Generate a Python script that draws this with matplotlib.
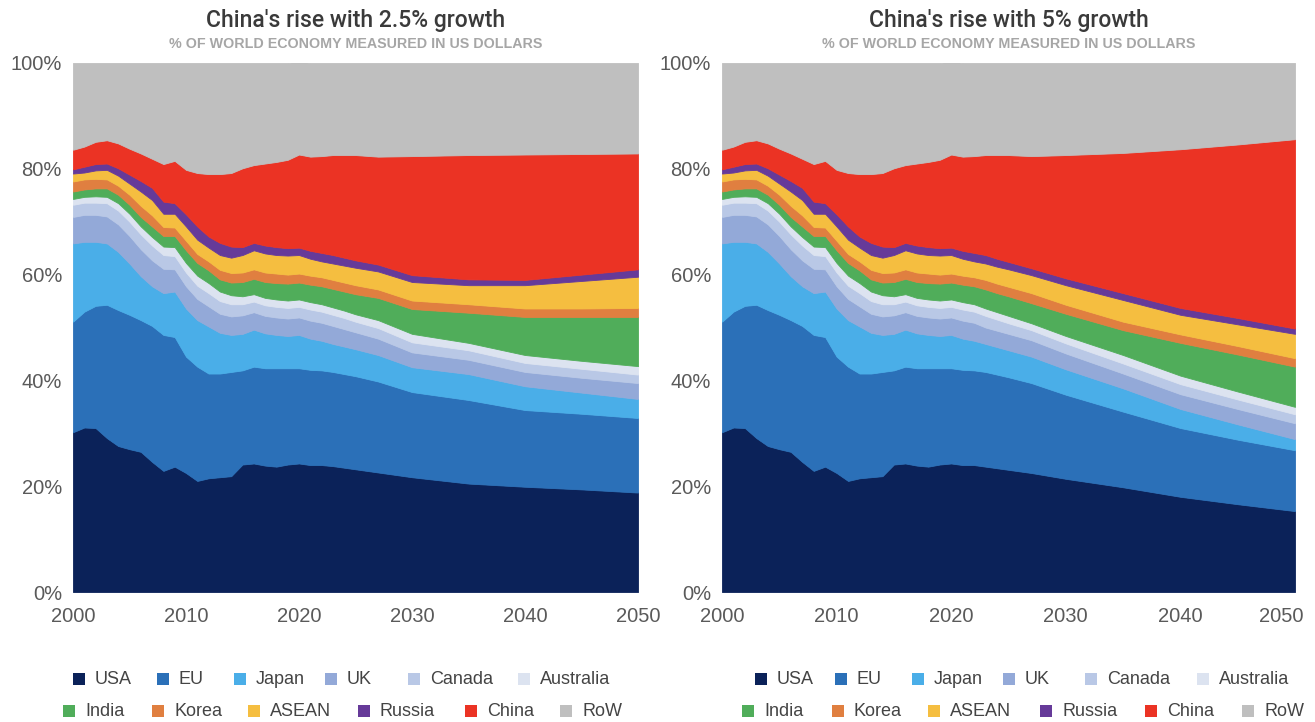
import matplotlib
matplotlib.use("Agg")
import matplotlib.pyplot as plt
from matplotlib.patches import Rectangle
from matplotlib.transforms import ScaledTranslation

plt.rcParams['font.family'] = ['Liberation Sans', 'DejaVu Sans']

# ---------------- data (share of world GDP, %) ----------------
years = list(range(2000, 2026)) + [2027, 2030, 2035, 2040, 2045, 2050]

countries = ["USA", "EU", "Japan", "UK", "Canada", "Australia",
             "India", "Korea", "ASEAN", "Russia", "China", "RoW"]
colors = ["#0b2259", "#2b70b8", "#4aaee8", "#93a9d8", "#b9c8e6", "#dce3f0",
          "#50ad5a", "#e07f40", "#f5be40", "#663a99", "#eb3324", "#bfbfbf"]

# historical 2000-2022 (shared by both scenarios)
hist_usa = [30.2, 31.1, 31.0, 29.1, 27.6, 27.0, 26.5, 24.6, 22.9, 23.7, 22.5, 21.0, 21.5, 21.7, 21.9, 24.1, 24.3, 23.9, 23.7, 24.1, 24.3, 24.0, 24.0]
hist_eu = [20.9, 21.9, 23.1, 25.2, 25.7, 25.4, 24.9, 25.7, 25.7, 24.5, 22.0, 21.6, 19.8, 19.6, 19.7, 17.8, 18.3, 18.4, 18.6, 18.2, 18.0, 18.0, 17.9]
hist_japan = [14.8, 13.2, 12.1, 11.6, 11.0, 9.7, 8.3, 7.5, 7.9, 8.6, 9.1, 8.8, 8.9, 7.7, 7.0, 6.9, 7.0, 6.6, 6.3, 6.1, 6.3, 5.9, 5.6]
hist_uk = [5.0, 5.1, 5.1, 5.1, 5.2, 5.2, 5.1, 4.9, 4.6, 4.2, 4.2, 4.0, 3.8, 3.6, 3.5, 3.5, 3.3, 3.3, 3.3, 3.3, 3.3, 3.4, 3.4]
hist_canada = [2.3, 2.3, 2.3, 2.5, 2.6, 2.7, 2.8, 2.8, 2.6, 2.5, 2.6, 2.5, 2.5, 2.4, 2.3, 2.1, 2.0, 2.0, 2.0, 2.0, 2.0, 2.1, 2.1]
hist_australia = [1.1, 1.1, 1.2, 1.2, 1.4, 1.5, 1.5, 1.6, 1.6, 1.7, 1.8, 1.9, 1.9, 1.8, 1.7, 1.5, 1.4, 1.4, 1.4, 1.4, 1.4, 1.4, 1.4]
hist_india = [1.4, 1.4, 1.5, 1.6, 1.6, 1.7, 1.8, 2.0, 2.0, 2.1, 2.4, 2.4, 2.4, 2.3, 2.4, 2.7, 2.9, 3.0, 3.1, 3.2, 3.2, 3.3, 3.4]
hist_korea = [1.9, 1.9, 1.8, 1.7, 1.7, 1.9, 2.1, 2.1, 1.7, 1.6, 1.8, 1.7, 1.7, 1.8, 1.8, 1.8, 1.8, 1.8, 1.8, 1.7, 1.7, 1.7, 1.7]
hist_asean = [1.5, 1.3, 1.6, 1.8, 1.9, 2.1, 2.7, 2.9, 2.5, 2.6, 2.7, 2.7, 2.6, 2.8, 2.9, 3.3, 3.6, 3.6, 3.5, 3.6, 3.5, 3.2, 3.0]
hist_russia = [0.8, 1.1, 1.2, 1.2, 1.4, 1.7, 2.0, 2.3, 2.3, 2.0, 2.3, 2.5, 2.1, 2.3, 2.1, 1.5, 1.4, 1.5, 1.5, 1.4, 1.4, 1.5, 1.6]
hist_china = [3.7, 3.8, 4.2, 4.4, 4.7, 4.9, 5.2, 5.5, 7.1, 8.0, 8.4, 10.1, 11.8, 13.0, 13.9, 14.9, 14.7, 15.5, 16.1, 16.7, 17.6, 17.8, 18.3]
hist_row = [16.4, 15.8, 14.9, 14.6, 15.2, 16.2, 17.1, 18.1, 19.1, 18.5, 20.2, 20.8, 21.0, 21.0, 20.8, 19.9, 19.3, 19.0, 18.7, 18.3, 17.6, 17.7, 17.6]

# projections 2023, 2024, 2025, 2027, 2030, 2035, 2040, 2045, 2050 -- China 2.5% growth
low_usa = [23.8, 23.5, 23.2, 22.6, 21.7, 20.5, 19.9, 19.4, 18.8]
low_eu = [17.8, 17.7, 17.6, 17.2, 16.1, 15.8, 14.5, 14.3, 14.1]
low_japan = [5.3, 5.2, 5.1, 5.0, 4.7, 4.9, 4.5, 4.0, 3.6]
low_uk = [3.4, 3.3, 3.2, 3.1, 2.8, 2.7, 2.7, 2.8, 3.0]
low_canada = [2.1, 2.1, 2.0, 2.0, 1.9, 1.8, 1.7, 1.7, 1.6]
low_australia = [1.4, 1.4, 1.4, 1.5, 1.6, 1.4, 1.5, 1.5, 1.6]
low_india = [3.5, 3.6, 3.8, 4.2, 4.7, 5.7, 7.2, 8.3, 9.3]
low_korea = [1.7, 1.7, 1.7, 1.6, 1.6, 1.6, 1.6, 1.6, 1.7]
low_asean = [3.1, 3.2, 3.3, 3.4, 3.5, 3.6, 4.4, 5.2, 5.9]
low_russia = [1.6, 1.5, 1.4, 1.3, 1.3, 1.1, 1.0, 1.2, 1.4]
low_china = [18.9, 19.4, 19.9, 20.4, 22.5, 23.5, 23.7, 22.8, 21.9]
low_row = [17.4, 17.4, 17.4, 17.7, 17.6, 17.4, 17.3, 17.2, 17.1]

# projections -- China 5% growth
high_usa = [23.7, 23.4, 23.1, 22.5, 21.4, 19.8, 18.0, 16.6, 15.3]
high_eu = [17.9, 17.7, 17.5, 17.0, 15.9, 14.3, 13.0, 12.2, 11.5]
high_japan = [5.3, 5.2, 5.1, 5.0, 4.8, 4.4, 3.6, 2.9, 2.1]
high_uk = [3.1, 3.1, 3.1, 3.1, 3.0, 2.8, 2.8, 2.9, 3.0]
high_canada = [2.2, 2.1, 2.0, 1.9, 1.9, 1.9, 1.9, 1.8, 1.7]
high_australia = [1.4, 1.4, 1.4, 1.3, 1.4, 1.6, 1.6, 1.5, 1.4]
high_india = [3.6, 3.6, 3.7, 3.8, 4.2, 4.7, 6.2, 7.0, 7.6]
high_korea = [1.8, 1.8, 1.8, 1.9, 1.7, 1.6, 1.6, 1.6, 1.6]
high_asean = [3.1, 3.2, 3.3, 3.4, 3.7, 4.1, 3.7, 4.1, 4.6]
high_russia = [1.6, 1.5, 1.4, 1.3, 1.3, 1.3, 1.3, 1.2, 1.0]
high_china = [18.9, 19.6, 20.2, 21.2, 23.3, 26.5, 30.0, 32.8, 35.8]
high_row = [17.4, 17.4, 17.4, 17.6, 17.4, 17.0, 16.3, 15.4, 14.4]

hist = [hist_usa, hist_eu, hist_japan, hist_uk, hist_canada, hist_australia,
        hist_india, hist_korea, hist_asean, hist_russia, hist_china, hist_row]
low = [low_usa, low_eu, low_japan, low_uk, low_canada, low_australia,
       low_india, low_korea, low_asean, low_russia, low_china, low_row]
high = [high_usa, high_eu, high_japan, high_uk, high_canada, high_australia,
        high_india, high_korea, high_asean, high_russia, high_china, high_row]

scen_low = [h + p for h, p in zip(hist, low)]
scen_high = [h + p for h, p in zip(hist, high)]

titles = ["China's rise with 2.5% growth", "China's rise with 5% growth"]
subtitle = "% OF WORLD ECONOMY MEASURED IN US DOLLARS"
yticks = [0, 20, 40, 60, 80, 100]
xticks = [2000, 2010, 2020, 2030, 2040, 2050]

# ---------------- figure ----------------
W, H = 1315, 722
fig = plt.figure(figsize=(W / 100, H / 100), dpi=100)
fig.patch.set_facecolor("white")

def fx(px):
    return px / W

def fy(py):
    return 1 - py / H

panels = [
    dict(x0=73, x1=638, data=scen_low, title=titles[0], shift_last=0,
         row1=[73, 157, 234, 325, 408, 518], row2=[63, 152, 248, 358, 465, 560]),
    dict(x0=722, x1=1295, data=scen_high, title=titles[1], shift_last=-14,
         row1=[755, 835, 912, 1003, 1085, 1197], row2=[742, 832, 928, 1040, 1145, 1242]),
]

tick_color = "#5a5a5a"
for p in panels:
    ax = fig.add_axes([fx(p["x0"]), fy(592), fx(p["x1"] - p["x0"]), (592 - 63) / H])
    polys = ax.stackplot(years, *p["data"], colors=colors, linewidth=0.6)
    for poly, c in zip(polys, colors):
        poly.set_edgecolor(c)
    ax.set_xlim(2000, 2050)
    ax.set_ylim(0, 100)
    ax.set_yticks(yticks)
    ax.set_yticklabels([f"{v}%" for v in yticks])
    ax.set_xticks(xticks)
    ax.set_xticklabels([str(v) for v in xticks])
    ax.tick_params(axis="both", length=0, labelsize=14.5, colors=tick_color)
    ax.tick_params(axis="y", pad=8)
    ax.tick_params(axis="x", pad=11)
    if p["shift_last"]:
        lab = ax.get_xticklabels()[-1]
        lab.set_transform(lab.get_transform() +
                          ScaledTranslation(p["shift_last"] / 100, 0, fig.dpi_scale_trans))
    for s in ax.spines.values():
        s.set_visible(False)
    ax.set_facecolor("white")

    cx = (p["x0"] + p["x1"]) / 2
    fig.text(fx(cx), fy(20), p["title"], ha="center", va="center",
             fontsize=16.5, color="#3a3a3a", family=["Roboto", "DejaVu Sans"],
             fontweight="medium")
    fig.text(fx(cx), fy(44), subtitle, ha="center", va="center",
             fontsize=10.3, color="#a6a6a6", fontweight="bold")

    # legend
    for row_idx, (xs, yc) in enumerate([(p["row1"], 679), (p["row2"], 711)]):
        for j, xpx in enumerate(xs):
            k = row_idx * 6 + j
            sq = 12
            fig.add_artist(Rectangle((fx(xpx), fy(yc + sq / 2)), sq / W, sq / H,
                                     transform=fig.transFigure,
                                     facecolor=colors[k], edgecolor="none"))
            fig.text(fx(xpx + 22), fy(yc), countries[k], ha="left", va="center",
                     fontsize=13, color="#444444")

fig.savefig("out.png", dpi=100)
